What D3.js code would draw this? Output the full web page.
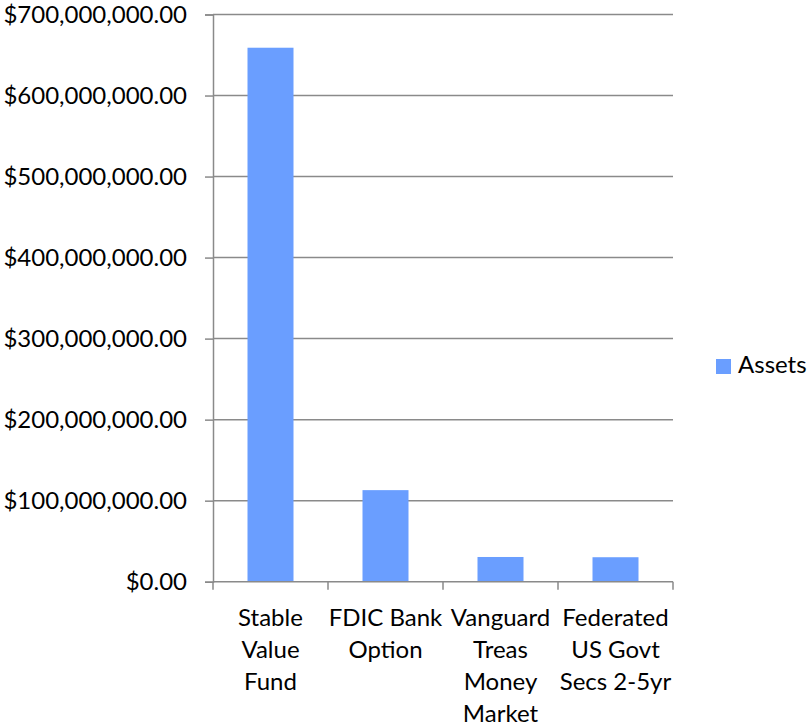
<!DOCTYPE html>
<html>
<head>
<meta charset="utf-8">
<script src="https://cdn.jsdelivr.net/npm/d3@7"></script>
<style>
  html, body { margin: 0; padding: 0; background: #fff; }
  svg text { font-family: Lato, "Open Sans", sans-serif; fill: #000; }
</style>
</head>
<body>
<svg id="chart" width="807" height="725"></svg>
<script>
const categories = ["Stable\nValue\nFund", "FDIC Bank\nOption", "Vanguard\nTreas\nMoney\nMarket", "Federated\nUS Govt\nSecs 2-5yr"];
const assets = [659000000, 113000000, 30500000, 30200000];
const seriesName = "Assets";
const yTicks = [0, 100000000, 200000000, 300000000, 400000000, 500000000, 600000000, 700000000];

const svg = d3.select("#chart");
const plot = { left: 213, right: 673, top: 14.5, bottom: 581.7 };
const fontSize = 24;
const gridColor = "#8a8a8a";
const barColor = "#6a9eff";

const x = d3.scaleBand().domain(d3.range(categories.length))
  .range([plot.left, plot.right]).paddingInner(0.6).paddingOuter(0.3);
const y = d3.scaleLinear().domain([0, 700000000]).range([plot.bottom, plot.top]);

const fmt = v => "$" + d3.format(",.2f")(v);

// gridlines
svg.append("g").selectAll("line").data(yTicks.filter(d => d > 0)).join("line")
  .attr("x1", plot.left).attr("x2", plot.right)
  .attr("y1", d => y(d)).attr("y2", d => y(d))
  .attr("stroke", gridColor).attr("stroke-width", 1.5);

// bars
svg.append("g").selectAll("rect").data(assets).join("rect")
  .attr("x", (d, i) => x(i)).attr("width", x.bandwidth())
  .attr("y", d => y(d)).attr("height", d => y(0) - y(d))
  .attr("fill", barColor);

// y axis
const yAxis = d3.axisLeft(y).tickValues(yTicks).tickFormat(fmt).tickSize(8).tickPadding(18);
const gy = svg.append("g").attr("transform", `translate(${plot.left},0)`).call(yAxis);
gy.select(".domain").attr("stroke", gridColor).attr("stroke-width", 1.5);
gy.selectAll(".tick line").attr("stroke", gridColor).attr("stroke-width", 1.5);
gy.selectAll(".tick text").attr("font-size", fontSize).attr("font-family", "Lato, sans-serif").attr("fill", "#000");

// x axis (category boundaries as ticks)
const step = x.step();
const boundaries = d3.range(categories.length + 1).map(i => plot.left + i * (plot.right - plot.left) / categories.length);
const gx = svg.append("g");
gx.append("line").attr("x1", plot.left).attr("x2", plot.right)
  .attr("y1", plot.bottom).attr("y2", plot.bottom)
  .attr("stroke", gridColor).attr("stroke-width", 1.5);
gx.selectAll("line.tk").data(boundaries).join("line").attr("class", "tk")
  .attr("x1", d => d).attr("x2", d => d)
  .attr("y1", plot.bottom).attr("y2", plot.bottom + 8)
  .attr("stroke", gridColor).attr("stroke-width", 1.5);

gx.selectAll("text.cat").data(categories).join("text").attr("class", "cat")
  .attr("text-anchor", "middle").attr("font-size", fontSize)
  .each(function(d, i) {
    const t = d3.select(this);
    const cx = x(i) + x.bandwidth() / 2;
    d.split("\n").forEach((line, k) => {
      t.append("tspan").attr("x", cx).attr("y", 626 + k * 32).text(line);
    });
  });

// legend
const lg = svg.append("g");
lg.append("rect").attr("x", 716).attr("y", 359).attr("width", 15).attr("height", 15).attr("fill", barColor);
lg.append("text").attr("x", 738).attr("y", 372.5).attr("font-size", fontSize).text(seriesName);
</script>
</body>
</html>
